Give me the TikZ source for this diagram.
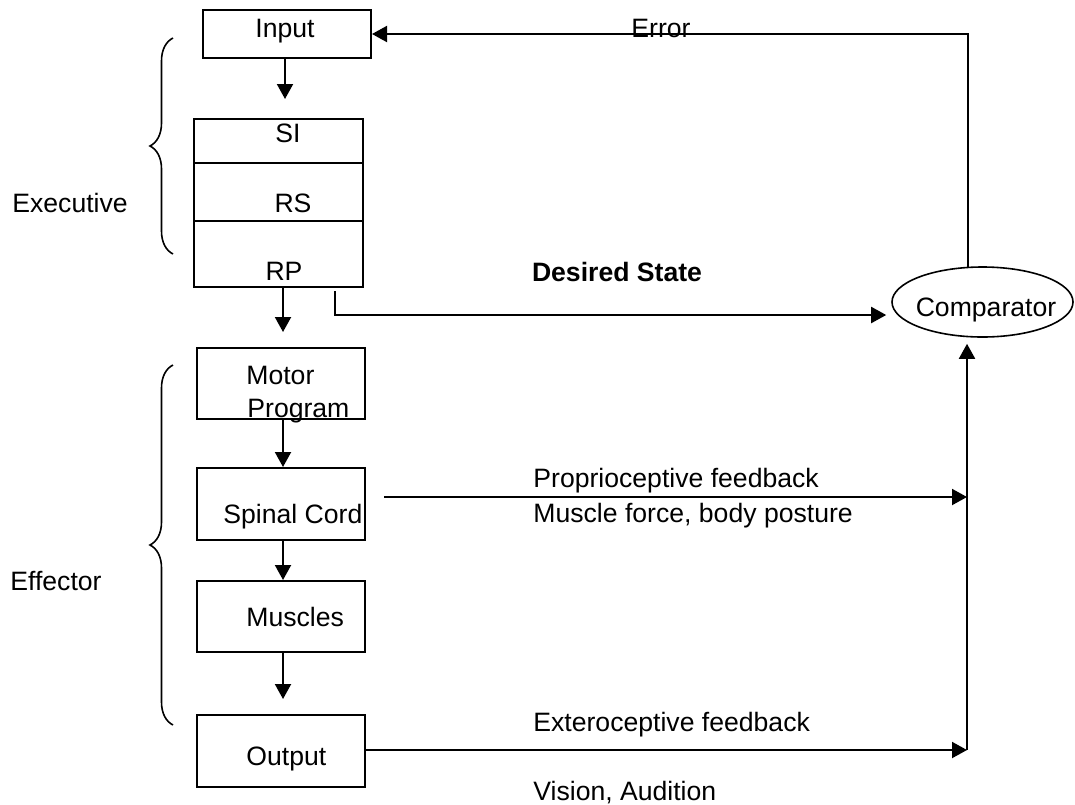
\documentclass[tikz,border=0pt]{standalone}
\usepackage{fontspec}
\setmainfont{Liberation Sans}
\usetikzlibrary{arrows.meta,shapes.geometric,decorations.pathreplacing,calc}
\begin{document}
\begin{tikzpicture}[x=0.5pt,y=-0.5pt,
  font=\fontsize{13.3}{16.5}\selectfont,
  box/.style={draw,line width=1pt,inner sep=0pt,minimum width=84pt},
  lbl/.style={inner sep=0pt},
  arr/.style={line width=1pt,-{Triangle[length=7.5pt,width=8pt]}},
  curly/.style={line width=0.8pt,decorate,decoration={brace,amplitude=11.5pt}}]
\useasboundingbox (0,0) rectangle (1075,804);

% executive blocks
\node[box,minimum height=24pt] (inp) at (287,34) {};
\node[box,minimum width=84.5pt,minimum height=84pt] (stack) at (278.5,203) {};
\draw[line width=1pt] (194,163) -- (363,163);
\draw[line width=1pt] (194,221) -- (363,221);

% effector blocks
\node[box,minimum height=35.5pt] (mp) at (281,383.5) {};
\node[box,minimum height=36pt] (sc) at (281,504) {};
\node[box,minimum height=35.5pt] (mus) at (281,616.5) {};
\node[box,minimum height=36pt] (out) at (281,751) {};

% comparator
\node[draw,ellipse,line width=0.8pt,inner sep=0pt,minimum width=90.5pt,minimum height=35pt] (cmp) at (982.5,302) {};
\node[lbl,anchor=base] (tcmp) at (986,316) {Comparator};

% block labels
\node[lbl,anchor=base] (tinp) at (285,37) {Input};
\node[lbl,anchor=base] (tsi) at (288,142) {SI};
\node[lbl,anchor=base] (trs) at (293,212) {RS};
\node[lbl,anchor=base] (trp) at (284,280) {RP};
\node[lbl,anchor=base west] (tmp1) at (246,384) {Motor};
\node[lbl,anchor=base west] (tmp2) at (247,417) {Program};
\node[lbl,anchor=base west] (tsc) at (223,523) {Spinal Cord};
\node[lbl,anchor=base west] (tmus) at (246,626) {Muscles};
\node[lbl,anchor=base west] (tout) at (246,765) {Output};

% side labels and braces
\node[lbl,anchor=base west] (texec) at (12,212) {Executive};
\node[lbl,anchor=base west] (teff) at (10,590) {Effector};
\draw[curly] (173,254) -- (173,38);
\draw[curly] (173,725) -- (173,365);

% connector labels
\node[lbl,anchor=base west] (terr) at (631,37) {Error};
\node[lbl,anchor=base] (tdes) at (617,281) {\bfseries Desired State};
\node[lbl,anchor=base west] (tpro) at (533,487) {Proprioceptive feedback};
\node[lbl,anchor=base west] (tmf) at (533,522) {Muscle force, body posture};
\node[lbl,anchor=base west] (text) at (533,731) {Exteroceptive feedback};
\node[lbl,anchor=base west] (tvis) at (533,800) {Vision, Audition};

% main chain
\draw[arr,shorten >=9.5pt] ([xshift=-1pt]inp.south) -- ([xshift=-1pt]inp.south |- stack.north);
\draw[arr,shorten >=7.5pt] ([xshift=2.25pt]stack.south) -- ([xshift=2.25pt]stack.south |- mp.north);
\draw[arr] ([xshift=1pt]mp.south) -- ([xshift=1pt]sc.north);
\draw[arr] ([xshift=1pt]sc.south) -- ([xshift=1pt]mus.north);
\draw[arr,shorten >=7.5pt] ([xshift=1pt]mus.south) -- ([xshift=1pt]out.north);

% desired state and error loop
\coordinate (des) at ($(cmp.west)+(-5,13)$);
\draw[arr] ($(stack.south east)+(-29,3)$) |- (des);
\coordinate (top) at ($(cmp.north)+(-15,1)$);
\draw[arr] (top) -- (top |- inp.east) -- (inp.east);

% feedback paths
\coordinate (pj) at (967,497);
\coordinate (ej) at (967,750);
\draw[arr] ($(sc.east)+(18,-7)$) -- (pj);
\draw[arr] (out.east |- ej) -- (ej);
\draw[arr,shorten >=3pt] (ej) -- (ej |- cmp.south);
\end{tikzpicture}
\end{document}
